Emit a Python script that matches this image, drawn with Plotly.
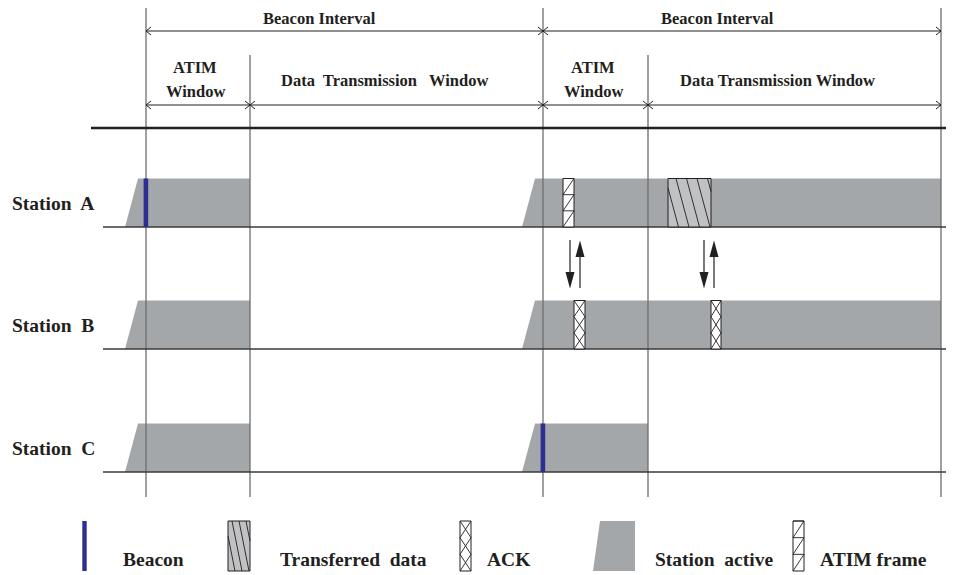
import plotly.graph_objects as go

# time axis of the diagram (screen units), two beacon intervals
beacon_times = [146, 543, 941]
atim_window_ends = [250, 648]

stations = ["Station A", "Station B", "Station C"]
station_base = [227, 349, 472]
active_periods = [[(125, 250), (522, 941)], [(125, 250), (522, 941)], [(125, 250), (522, 648)]]
beacon_sent = [[146], [], [543]]
atim_frames = [[(563, 574)], [], []]
ack_frames = [[], [(574, 585), (711, 721)], []]
data_frames = [[(668, 711)], [], []]
down_arrows_x = [570, 704]
up_arrows_x = [580, 714]

legend_labels = ["Beacon", "Transferred&nbsp; data", "ACK", "Station&nbsp; active", "ATIM frame"]

INK = "#231f20"
GRAY = "#a4a7aa"
DATA_GRAY = "#bfc1c3"
BLUE = "#2b3090"
FONT = "Liberation Serif"
BAR_H = 48.5
PAGE_PAD = 8  # default body margin of the html page

fig = go.Figure()


def add_lines(xs, ys, color=INK, width=1.0):
    fig.add_trace(go.Scatter(x=xs, y=ys, mode="lines", line=dict(color=color, width=width), hoverinfo="skip"))


def add_poly(xs, ys, fill, line_color=None, width=0):
    fig.add_trace(go.Scatter(x=xs, y=ys, mode="lines", fill="toself", fillcolor=fill,
                             line=dict(color=line_color or fill, width=width), hoverinfo="skip"))


def rect(x0, x1, top, bottom, fill, line_color=INK, width=1):
    add_poly([x0, x1, x1, x0, x0], [top, top, bottom, bottom, top], fill, line_color, width)


def trapezoid(x0, x1, top, bottom, ramp):
    add_poly([x0, x0 + ramp, x1, x1, x0], [bottom, top, top, bottom, bottom], GRAY)


def atim_icon(x0, x1, top, bottom):
    rect(x0, x1, top, bottom, "white", INK, 1)
    xs, ys = [], []
    h = (bottom - top) / 3
    for k in range(3):
        t = top + k * h
        xs += [x0, x1, None, x0, x1, None]
        ys += [t, t, None, t + h, t, None]
    add_lines(xs, ys, INK, 0.9)


def ack_icon(x0, x1, top, bottom):
    rect(x0, x1, top, bottom, "white", INK, 1)
    xs, ys = [], []
    h = (bottom - top) / 3
    for k in range(3):
        t = top + k * h
        xs += [x0, x1, None, x0, x1, None]
        ys += [t, t + h, None, t + h, t, None]
    add_lines(xs, ys, INK, 0.9)


def data_icon(x0, x1, top, bottom, step, slant):
    rect(x0, x1, top, bottom, DATA_GRAY, INK, 1)
    xs, ys = [], []
    a = x0 - slant
    while a < x1:
        t0 = max(0.0, (x0 - a) / slant)
        t1 = min(1.0, (x1 - a) / slant)
        if t0 < t1:
            xs += [a + slant * t0, a + slant * t1, None]
            ys += [top + (bottom - top) * t0, top + (bottom - top) * t1, None]
        a += step
    add_lines(xs, ys, INK, 0.9)


# station active periods
for base, periods in zip(station_base, active_periods):
    for s, e in periods:
        trapezoid(s, e, base - BAR_H, base, 13)

# vertical boundaries
vx, vy = [], []
for b in beacon_times:
    vx += [b, b, None]
    vy += [5, 497, None]
for a in atim_window_ends:
    vx += [a, a, None]
    vy += [55, 497, None]
add_lines(vx, vy, "#6e6e6e", 1.3)

# thick separator and station baselines
add_lines([91, 954], [128, 128], INK, 2.6)
bx, by = [], []
for base in station_base:
    bx += [103, 954, None]
    by += [base, base, None]
add_lines(bx, by, "#3a3a3a", 1.3)

# header dimension arrows
beacon_intervals = list(zip(beacon_times[:-1], beacon_times[1:]))
window_bounds = sorted(beacon_times + atim_window_ends)
window_intervals = list(zip(window_bounds[:-1], window_bounds[1:]))
hx, hy = [], []
for y, intervals in [(31, beacon_intervals), (105, window_intervals)]:
    for s, e in intervals:
        hx += [s, e, None, s + 5, s, s + 5, None, e - 5, e, e - 5, None]
        hy += [y, y, None, y - 4, y, y + 4, None, y - 4, y, y + 4, None]
add_lines(hx, hy, INK, 1.0)

# frames on the stations
for base, frames in zip(station_base, atim_frames):
    for s, e in frames:
        atim_icon(s, e, base - BAR_H, base)
for base, frames in zip(station_base, ack_frames):
    for s, e in frames:
        ack_icon(s, e, base - BAR_H, base)
for base, frames in zip(station_base, data_frames):
    for s, e in frames:
        data_icon(s, e, base - BAR_H, base, 10.5, 13)
for base, beacons in zip(station_base, beacon_sent):
    for b in beacons:
        rect(b - 2.4, b + 2.2, base - BAR_H, base, BLUE, BLUE, 0)

# ATIM / ACK exchange arrows between Station A and Station B
for x in down_arrows_x:
    add_lines([x, x], [240, 273], INK, 1.2)
    add_poly([x - 4.5, x + 4.5, x, x - 4.5], [272, 272, 288.5, 272], INK)
for x in up_arrows_x:
    add_lines([x, x], [256, 288], INK, 1.2)
    add_poly([x - 4.5, x + 4.5, x, x - 4.5], [257, 257, 240.5, 257], INK)

# legend
lt, lb = 521, 571
rect(82.3, 86.7, lt, lb, BLUE, BLUE, 0)
data_icon(228, 250, lt, lb, 7, 10)
ack_icon(460, 471, lt, lb)
add_poly([593, 600, 635, 635, 593], [lb, lt, lt, lb, lb], GRAY)
atim_icon(793, 804, lt, lb)


def text(x, y, s, size, anchor="center"):
    fig.add_annotation(x=x, y=y, text=s, showarrow=False, xanchor=anchor, yanchor="middle",
                       font=dict(family=FONT, size=size, color=INK, weight="bold"))


for label, x in zip(legend_labels, [121, 278, 485, 653, 818]):
    text(x, 559, label, 19.5, "left")

for name, base in zip(stations, station_base):
    text(10, base - 24, name.replace(" ", "&nbsp; "), 19.5, "left")

text(319, 18, "Beacon Interval", 16.5)
text(717, 18, "Beacon Interval", 16.5)
text(195, 67, "ATIM", 16.5)
text(195, 91, "Window", 16.5)
text(593, 67, "ATIM", 16.5)
text(593, 91, "Window", 16.5)
text(384, 80, "Data&nbsp; Transmission&nbsp;&nbsp; Window", 16.5)
text(777, 80, "Data Transmission Window", 16.5)

fig.update_layout(
    width=954 - PAGE_PAD, height=575 - PAGE_PAD,
    margin=dict(l=0, r=0, t=0, b=0),
    paper_bgcolor="white", plot_bgcolor="white",
    showlegend=False,
    xaxis=dict(range=[PAGE_PAD, 954], visible=False, fixedrange=True),
    yaxis=dict(range=[575, PAGE_PAD], visible=False, fixedrange=True),
)
fig.write_html("out.html")
